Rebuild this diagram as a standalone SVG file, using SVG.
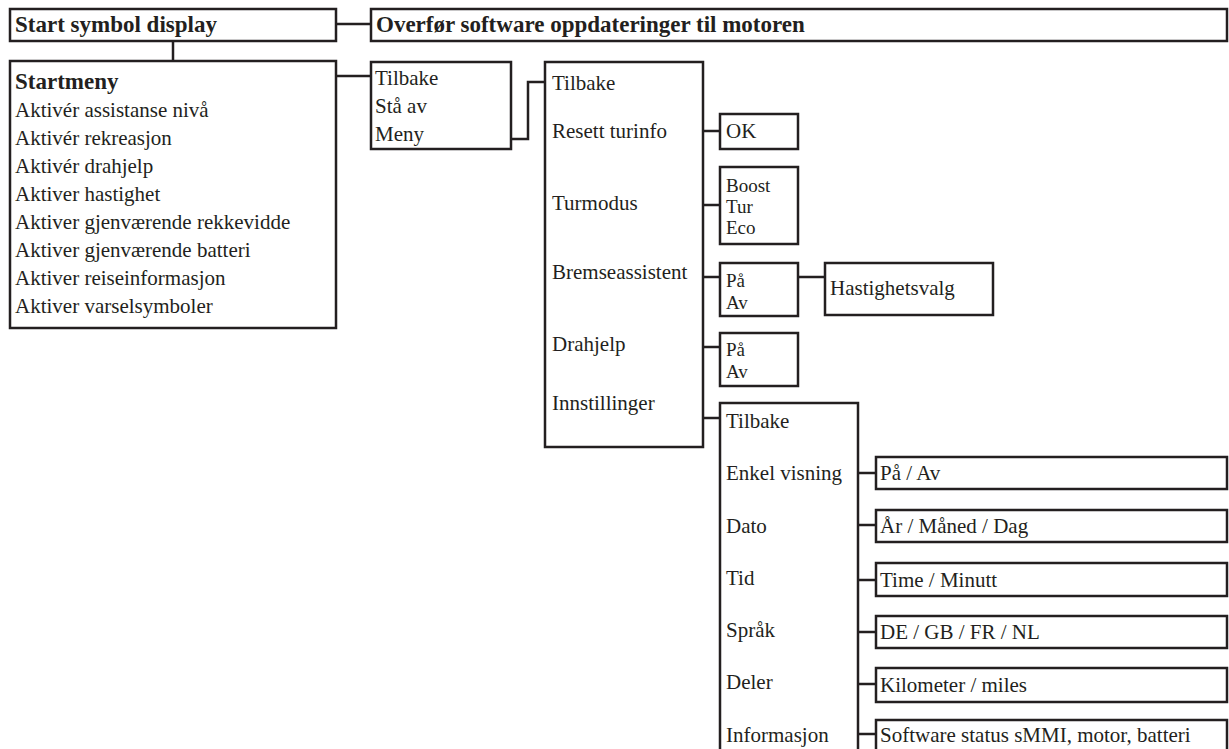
<svg xmlns="http://www.w3.org/2000/svg" width="1229" height="749" viewBox="0 0 1229 749">
<style>
.box{fill:#fff;stroke:#231f20;stroke-width:2.5}
.ln{fill:none;stroke:#231f20;stroke-width:2.5}
text{font-family:"Liberation Serif","DejaVu Serif",serif;fill:#231f20;font-size:21px}
.b{font-weight:bold;font-size:23px}
.s{font-size:19px}
</style>
<rect width="1229" height="749" fill="#fff"/>
<g id="connectors">
<path class="ln" d="M336 24H371"/>
<path class="ln" d="M173 41V61"/>
<path class="ln" d="M336 76H371"/>
<path class="ln" d="M511 139H528V82H545"/>
<path class="ln" d="M703 131H720M703 205H720M703 277H720M798 277H825M703 347H720M703 418H720"/>
<path class="ln" d="M858 473H876M858 525H876M858 580H876M858 632H876M858 684H876M858 734H876"/>
</g>
<g id="n-start"><rect class="box" x="10" y="9" width="326" height="32"/><text class="b" x="15" y="32">Start symbol display</text></g>
<g id="n-update"><rect class="box" x="371" y="9" width="856" height="32"/><text class="b" x="376" y="32">Overfør software oppdateringer til motoren</text></g>
<g id="n-startmeny"><rect class="box" x="10" y="61" width="326" height="267"/>
<text class="b" x="15" y="89">Startmeny</text>
<text x="15" y="117">Aktivér assistanse nivå</text>
<text x="15" y="145">Aktivér rekreasjon</text>
<text x="15" y="173">Aktivér drahjelp</text>
<text x="15" y="201">Aktiver hastighet</text>
<text x="15" y="229">Aktiver gjenværende rekkevidde</text>
<text x="15" y="257">Aktiver gjenværende batteri</text>
<text x="15" y="285">Aktiver reiseinformasjon</text>
<text x="15" y="313">Aktiver varselsymboler</text>
</g>
<g id="n-menu1"><rect class="box" x="371" y="62" width="140" height="87"/>
<text x="375" y="85">Tilbake</text><text x="375" y="113">Stå av</text><text x="375" y="141">Meny</text></g>
<g id="n-menu2"><rect class="box" x="545" y="62" width="158" height="385"/>
<text x="552" y="90">Tilbake</text>
<text x="552" y="138">Resett turinfo</text>
<text x="552" y="210">Turmodus</text>
<text x="552" y="279">Bremseassistent</text>
<text x="552" y="351">Drahjelp</text>
<text x="552" y="410">Innstillinger</text></g>
<g id="n-ok"><rect class="box" x="720" y="114" width="78" height="35"/><text x="726" y="138">OK</text></g>
<g id="n-mode"><rect class="box" x="720" y="167" width="78" height="77"/>
<text class="s" x="726" y="192">Boost</text><text class="s" x="726" y="213">Tur</text><text class="s" x="726" y="234">Eco</text></g>
<g id="n-brake"><rect class="box" x="720" y="263" width="78" height="53"/>
<text class="s" x="726" y="287">På</text><text class="s" x="726" y="309">Av</text></g>
<g id="n-speed"><rect class="box" x="825" y="263" width="168" height="52"/><text x="830" y="295">Hastighetsvalg</text></g>
<g id="n-drag"><rect class="box" x="720" y="333" width="78" height="53"/>
<text class="s" x="726" y="356">På</text><text class="s" x="726" y="378">Av</text></g>
<g id="n-settings"><rect class="box" x="720" y="403" width="138" height="360"/>
<text x="726" y="428">Tilbake</text>
<text x="726" y="480">Enkel visning</text>
<text x="726" y="533">Dato</text>
<text x="726" y="585">Tid</text>
<text x="726" y="637">Språk</text>
<text x="726" y="689">Deler</text>
<text x="726" y="742">Informasjon</text></g>
<g id="n-display"><rect class="box" x="876" y="457" width="351" height="32"/><text x="880" y="480">På / Av</text></g>
<g id="n-date"><rect class="box" x="876" y="510" width="351" height="32"/><text x="880" y="533">År / Måned / Dag</text></g>
<g id="n-time"><rect class="box" x="876" y="563" width="351" height="33"/><text x="880" y="587">Time / Minutt</text></g>
<g id="n-lang"><rect class="box" x="876" y="616" width="351" height="32"/><text x="880" y="639">DE / GB / FR / NL</text></g>
<g id="n-units"><rect class="box" x="876" y="668" width="351" height="34"/><text x="880" y="692">Kilometer / miles</text></g>
<g id="n-info"><rect class="box" x="876" y="720" width="351" height="45"/><text x="880" y="742">Software status sMMI, motor, batteri</text></g>
</svg>
